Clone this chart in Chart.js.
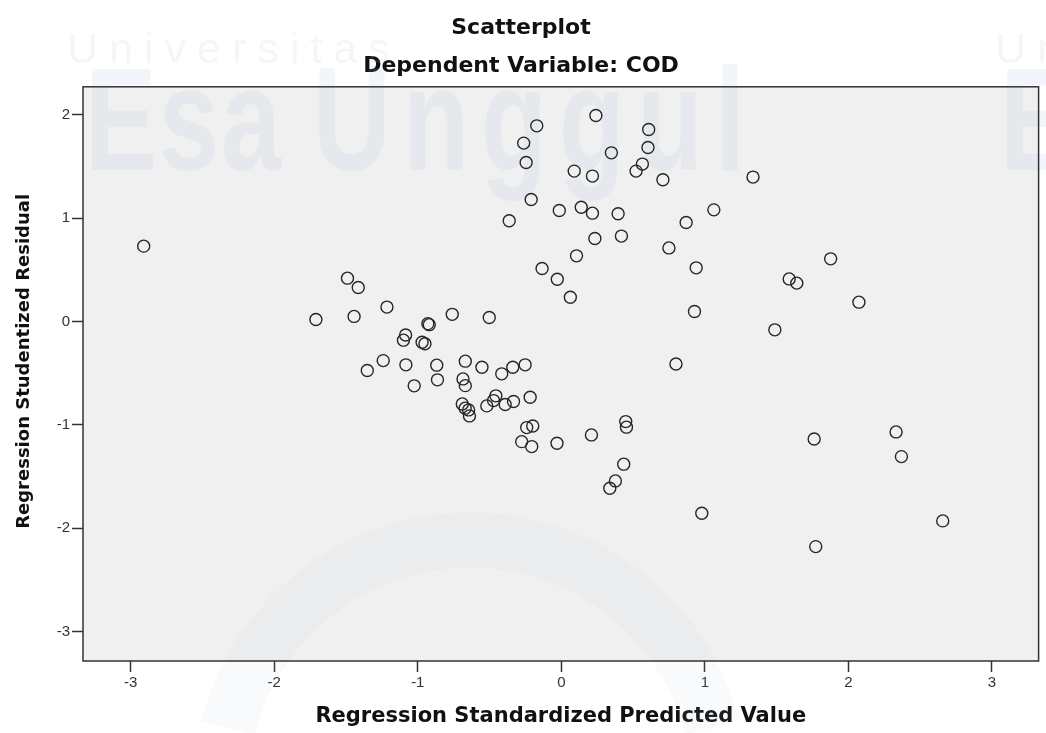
<!DOCTYPE html>
<html>
<head>
<meta charset="utf-8">
<script src="https://cdn.jsdelivr.net/npm/chart.js@4.4.1/dist/chart.umd.min.js"></script>
<style>
  body { margin: 0; background: #fff; }
  #wrap { width: 1046px; height: 733px; }
</style>
</head>
<body>
<div id="wrap"><canvas id="scatter"></canvas></div>
<script>
// values (standardized predicted value, studentized residual)
var predicted = [
  -2.91, -1.49, -1.415, -1.215, -1.71, -1.444, -0.93, -0.92, -1.085, -1.10,
  -0.97, -0.95, -0.76, -0.502, -1.352, -1.241, -1.083, -0.868, -0.863, -1.025,
  -0.669, -0.553, -0.685, -0.669, -0.415, -0.338, -0.252, -0.69, -0.67, -0.646,
  -0.64, -0.519, -0.456, -0.472, -0.391, -0.333, -0.217, -0.241, -0.199, -0.276,
  -0.206, -0.03, 0.21, 0.449, 0.454, 0.435, 0.377, 0.338, 0.979, 0.241,
  -0.171, -0.262, -0.245, 0.609, 0.604, 0.349, 0.565, 0.521, 0.708, 0.09,
  0.217, -0.21, -0.014, 0.139, 0.217, 0.396, -0.363, 1.063, 0.87, 0.234,
  0.419, 0.75, 0.106, 0.94, -0.134, -0.028, 0.063, 0.928, 1.336, 1.877,
  1.588, 1.641, 2.074, 1.488, 1.762, 2.333, 2.37, 2.658, 1.773, 0.799
];
var residual = [
  0.73, 0.42, 0.33, 0.14, 0.02, 0.05, -0.02, -0.03, -0.13, -0.18,
  -0.2, -0.215, 0.07, 0.04, -0.474, -0.378, -0.419, -0.422, -0.564, -0.622,
  -0.383, -0.442, -0.555, -0.62, -0.506, -0.442, -0.419, -0.797, -0.838, -0.855,
  -0.913, -0.816, -0.719, -0.765, -0.803, -0.774, -0.732, -1.026, -1.01, -1.162,
  -1.21, -1.177, -1.097, -0.968, -1.022, -1.38, -1.542, -1.613, -1.855, 1.994,
  1.894, 1.727, 1.539, 1.859, 1.684, 1.633, 1.524, 1.456, 1.372, 1.456,
  1.408, 1.181, 1.075, 1.107, 1.049, 1.043, 0.975, 1.081, 0.958, 0.804,
  0.827, 0.713, 0.636, 0.52, 0.513, 0.41, 0.236, 0.097, 1.398, 0.607,
  0.413, 0.372, 0.188, -0.08, -1.136, -1.068, -1.307, -1.929, -2.178, -0.41
];
var xTicks = [-3, -2, -1, 0, 1, 2, 3];
var yTicks = [-3, -2, -1, 0, 1, 2];

var points = [];
for (var i = 0; i < predicted.length; i++) {
  points.push({ x: predicted[i], y: residual[i] });
}

// grey plot box + faint watermark + frame
var spssLook = {
  id: 'spssLook',
  beforeDraw: function (chart) {
    var c = chart.ctx, a = chart.chartArea;
    c.save();
    c.fillStyle = '#ffffff';
    c.fillRect(0, 0, chart.width, chart.height);
    c.fillStyle = '#f0f0f0';
    c.fillRect(a.left, a.top, a.right - a.left, a.bottom - a.top);
    c.restore();
  },
  beforeDatasetsDraw: function (chart) {
    var c = chart.ctx, a = chart.chartArea;
    c.save();
    c.fillStyle = 'rgba(165,185,215,0.12)';
    c.textBaseline = 'alphabetic';
    c.font = '43px "Liberation Sans"';
    c.letterSpacing = '11px';
    c.fillText('Universitas', 67, 63);
    c.fillText('Un', 995, 63);
    c.fillStyle = 'rgba(165,185,215,0.15)';
    c.save();
    c.translate(0, 170);
    c.scale(1, 1.35);
    c.font = 'bold 108px "Liberation Sans"';
    c.letterSpacing = '2px';
    c.fillText('Esa', 85, 0);
    c.letterSpacing = '12px';
    c.fillText('Unggul', 313, 0);
    c.fillText('E', 1000, 0);
    c.restore();
    c.strokeStyle = 'rgba(165,185,215,0.07)';
    c.lineWidth = 55;
    c.beginPath();
    c.arc(470, 790, 250, Math.PI * 1.08, Math.PI * 1.92);
    c.stroke();
    c.restore();

    c.save();
    c.strokeStyle = '#333';
    c.lineWidth = 1.5;
    c.strokeRect(a.left, a.top, a.right - a.left, a.bottom - a.top);
    c.restore();
  }
};

new Chart(document.getElementById('scatter'), {
  type: 'scatter',
  data: {
    datasets: [{
      data: points,
      pointStyle: 'circle',
      pointRadius: 6,
      pointHoverRadius: 6,
      backgroundColor: 'rgba(0,0,0,0)',
      borderColor: '#262626',
      borderWidth: 1.4
    }]
  },
  options: {
    responsive: true,
    maintainAspectRatio: false,
    animation: false,
    layout: { padding: { left: 0, right: 4, top: 0, bottom: 0 } },
    plugins: {
      legend: { display: false },
      tooltip: { enabled: false },
      title: {
        display: true,
        text: 'Scatterplot',
        color: '#111',
        font: { family: '"DejaVu Sans"', size: 22, weight: 'bold' },
        padding: { top: 15, bottom: 9 }
      },
      subtitle: {
        display: true,
        text: 'Dependent Variable: COD',
        color: '#111',
        font: { family: '"DejaVu Sans"', size: 22, weight: 'bold' },
        padding: { top: 3, bottom: 7 }
      }
    },
    scales: {
      x: {
        type: 'linear',
        min: -3.333,
        max: 3.326,
        afterBuildTicks: function (s) { s.ticks = xTicks.map(function (v) { return { value: v }; }); },
        afterFit: function (s) { s.height = 72; },
        grid: { drawOnChartArea: false, drawTicks: true, tickLength: 11, tickWidth: 1.5, tickColor: '#333' },
        border: { display: false },
        ticks: { color: '#333', font: { family: '"Liberation Sans"', size: 15 }, padding: 2, maxRotation: 0 },
        title: {
          display: true,
          text: 'Regression Standardized Predicted Value',
          color: '#111',
          font: { family: '"DejaVu Sans"', size: 21, weight: 'bold' },
          padding: { top: 0, bottom: 4 }
        }
      },
      y: {
        type: 'linear',
        min: -3.285,
        max: 2.272,
        afterBuildTicks: function (s) { s.ticks = yTicks.map(function (v) { return { value: v }; }); },
        afterFit: function (s) { s.width = 83; },
        grid: { drawOnChartArea: false, drawTicks: true, tickLength: 11, tickWidth: 1.5, tickColor: '#333' },
        border: { display: false },
        ticks: { color: '#333', font: { family: '"Liberation Sans"', size: 15 }, padding: 2 },
        title: {
          display: true,
          text: '    Regression Studentized Residual',
          color: '#111',
          font: { family: '"DejaVu Sans"', size: 18, weight: 'bold' },
          padding: { top: 14, bottom: 0 }
        }
      }
    }
  },
  plugins: [spssLook]
});
</script>
</body>
</html>
